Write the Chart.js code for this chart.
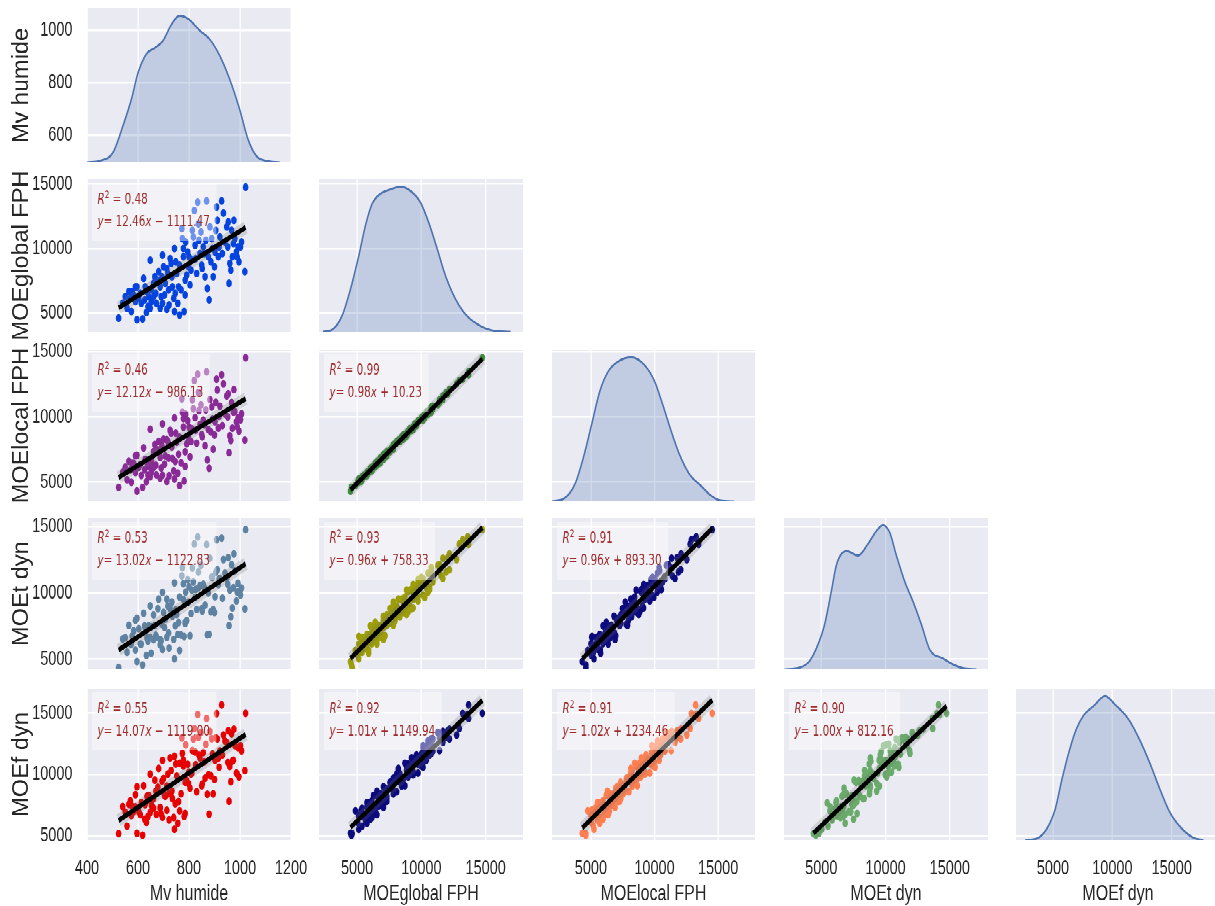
<!doctype html>
<html>
<head>
<meta charset="utf-8" />
<title>Pairplot</title>
<script src="https://cdn.jsdelivr.net/npm/chart.js@4"></script>
<style>
  html, body { margin: 0; padding: 0; background: #fff; overflow: hidden; }
  /* the figure is laid out at 1215x648 then stretched vertically like the source image */
  #fig { position: absolute; left: 0; top: 0; width: 1215px; height: 648px; transform: scale(1, 1.4); transform-origin: 0 0; }
  #fig canvas { position: absolute; }
</style>
</head>
<body>
<div id="fig"></div>
<script>
const varNames = ['Mv humide', 'MOEglobal FPH', 'MOElocal FPH', 'MOEt dyn', 'MOEf dyn'];

// one value per specimen
const mvHumide = [524, 596, 618, 574, 633, 713, 743, 763, 781, 577, 596, 609, 622, 628, 642, 648, 653, 666, 672, 681,
  687, 696, 700, 704, 713, 720, 726, 733, 740, 743, 748, 759, 763, 772, 774, 778, 785, 791, 798, 804,
  811, 817, 821, 824, 830, 834, 837, 843, 850, 856, 863, 869, 872, 879, 882, 886, 889, 895, 902, 908,
  911, 915, 921, 928, 935, 941, 948, 954, 957, 960, 964, 967, 974, 980, 986, 992, 996, 1006, 1019, 1022,
  564, 570, 583, 590, 603, 613, 626, 635, 639, 652, 661, 670, 678, 691, 694, 707, 717, 722, 730, 735,
  752, 756, 769, 778, 787, 795, 808, 813, 826, 839, 847, 852, 860, 866, 876, 892, 900, 905, 918, 931,
  952, 970, 976, 989, 1002, 590, 550, 540, 557, 648, 661, 687, 696, 746, 785, 800];
const moeGlobal = [4620, 4490, 4560, 5130, 5050, 5310, 5130, 4870, 5130, 6670, 7050, 6540, 7690, 7050, 6280, 9100, 6800, 7820, 5770, 8210,
  7050, 9490, 8590, 6410, 8460, 6800, 9230, 7820, 6150, 10000, 8970, 7050, 8720, 11540, 10770, 9360, 6410, 7950, 8590, 7180,
  9100, 10900, 12950, 10260, 8080, 13590, 11920, 9620, 8720, 10130, 7820, 13670, 6920, 6030, 11670, 8970, 10770, 7820, 9740, 13210,
  12180, 9360, 10900, 13670, 12740, 10510, 11670, 12050, 7310, 8850, 8330, 11410, 10380, 10770, 9740, 10130, 8970, 10510, 8210, 14740,
  6670, 6150, 6410, 5900, 6150, 5770, 6030, 6670, 5510, 5900, 7310, 6540, 7560, 6280, 7820, 7310, 8080, 5640, 8850, 7050,
  8080, 5770, 6800, 10000, 10510, 9740, 8330, 11410, 9230, 10640, 11280, 8460, 9620, 10640, 9360, 10000, 8590, 11410, 10130, 9620,
  10130, 9360, 12180, 9360, 10130, 7050, 6280, 5770, 5390, 5390, 6280, 5390, 5770, 6540, 7560, 9360];
const moeLocal = [4600, 4320, 4600, 5000, 5040, 5060, 5240, 4750, 5090, 6450, 7070, 6360, 7640, 6740, 6200, 9060, 6600, 7880, 5560, 8130,
  6900, 9470, 8290, 6390, 8250, 6850, 8970, 7700, 5880, 9920, 8760, 7140, 8440, 11400, 10360, 9230, 6210, 7940, 8450, 6950,
  9100, 10630, 12800, 9940, 7990, 13280, 11880, 9420, 8650, 9770, 7790, 13470, 6700, 6070, 11340, 8840, 10770, 7530, 9640, 12900,
  12060, 9150, 10830, 13230, 12540, 10230, 11610, 11780, 7260, 8560, 8200, 11100, 10370, 10410, 9630, 9920, 8920, 10250, 8230, 14540,
  6600, 5940, 6450, 5740, 6130, 5520, 5950, 6480, 5530, 5760, 7350, 6300, 7480, 6080, 7770, 7010, 8130, 5500, 8760, 6810,
  8070, 5690, 6480, 9870, 10210, 9710, 8120, 11310, 8980, 10480, 10930, 8470, 9380, 10540, 9020, 9840, 8620, 11120, 10050, 9330,
  10000, 9140, 12090, 9260, 9790, 7030, 6140, 5760, 5190, 5420, 6110, 5310, 5540, 6590, 7330, 9230];
const moeTDyn = [4390, 4830, 4580, 6160, 5290, 6660, 5040, 5670, 6720, 6760, 8090, 6160, 8460, 7370, 7510, 9010, 7450, 7550, 6700, 9520,
  6490, 10030, 8520, 7390, 9520, 6970, 8820, 9310, 6500, 10760, 8730, 7770, 9690, 11280, 11900, 9500, 7790, 7910, 9320, 6770,
  10210, 10820, 13670, 9650, 8760, 14200, 11560, 10550, 8810, 10640, 9070, 13640, 6840, 6870, 12600, 8570, 11180, 8750, 9710, 14000,
  11730, 10620, 11060, 14120, 12510, 11490, 11080, 12650, 7540, 10210, 8200, 12110, 10400, 11660, 9390, 10720, 10090, 10370, 8800, 14750,
  7560, 6180, 7150, 5700, 7300, 6140, 7510, 6600, 6370, 5460, 8340, 6800, 8820, 6390, 7630, 8020, 9000, 5850, 8370, 8250,
  8360, 6860, 6810, 10680, 10050, 10990, 8440, 11870, 10260, 10410, 12070, 8640, 10390, 10250, 9980, 11160, 8520, 11550, 11040, 9590,
  10640, 8860, 12930, 10060, 9840, 7930, 6630, 6540, 5530, 6650, 6470, 6090, 5740, 7520, 7700, 10460];
const moeFDyn = [5180, 5210, 5050, 6650, 6090, 7070, 5530, 7030, 6570, 7410, 8990, 6720, 9080, 7550, 8290, 10020, 7460, 9530, 6740, 10480,
  7310, 11140, 9670, 8260, 9060, 8420, 11350, 8650, 6480, 11490, 10850, 7790, 10920, 12970, 11710, 11160, 6820, 9500, 9270, 8880,
  10100, 12880, 13750, 11830, 8590, 14900, 13030, 11350, 9080, 11780, 9690, 14560, 8380, 6760, 13500, 9890, 12910, 8410, 11150, 14970,
  12890, 11320, 11920, 15660, 13220, 12730, 12620, 13560, 7810, 10650, 9400, 13310, 11150, 12350, 10110, 12180, 9810, 11930, 10320, 14990,
  7570, 7840, 6980, 7350, 6960, 7700, 6360, 8210, 6560, 7670, 8050, 8640, 8950, 6770, 9450, 8210, 10030, 6290, 10330, 8030,
  9870, 6020, 8420, 10690, 12410, 10830, 10040, 11950, 10790, 11580, 13420, 9220, 11030, 12460, 9960, 11650, 9590, 12990, 10580, 11590,
  10980, 11080, 13690, 10040, 12340, 8350, 6930, 7380, 5790, 6910, 7250, 7230, 6500, 7600, 9350, 10200];
const columns = [mvHumide, moeGlobal, moeLocal, moeTDyn, moeFDyn];

// density curves on the diagonal (x, relative height)
const kdeMvX = [400, 450, 502, 541, 574, 600, 633, 665, 698, 731, 763, 796, 842, 881, 920, 959, 999, 1031, 1064, 1103, 1156];
const kdeMvY = [0, 0.011, 0.068, 0.25, 0.43, 0.61, 0.74, 0.78, 0.83, 0.94, 1.0, 0.98, 0.90, 0.84, 0.73, 0.57, 0.36, 0.16, 0.045, 0.011, 0];
const kdeGlobalX = [2350, 3053, 3830, 4478, 5125, 5647, 6169, 6815, 7594, 8373, 9152, 9931, 10578, 11232, 11879, 12658, 13437, 14473, 15517, 16934];
const kdeGlobalY = [0, 0.014, 0.11, 0.29, 0.52, 0.73, 0.88, 0.95, 0.98, 1.0, 0.97, 0.89, 0.75, 0.57, 0.385, 0.225, 0.12, 0.046, 0.009, 0];
const kdeLocalX = [1922, 2836, 3750, 4398, 5047, 5703, 6352, 7133, 8172, 9219, 10000, 10648, 11297, 11953, 12734, 13641, 14422, 15203, 16250];
const kdeLocalY = [0, 0.016, 0.12, 0.30, 0.53, 0.765, 0.90, 0.97, 1.0, 0.945, 0.834, 0.67, 0.49, 0.327, 0.19, 0.108, 0.04, 0.005, 0];
const kdeTX = [2141, 3310, 4088, 4735, 5257, 5779, 6168, 6558, 6994, 7851, 8630, 9284, 9799, 10321, 10843, 11489, 12136, 12790, 13437, 14473, 15252, 16031, 17074];
const kdeTY = [0, 0.011, 0.057, 0.17, 0.31, 0.54, 0.72, 0.80, 0.82, 0.79, 0.87, 0.96, 1.0, 0.95, 0.79, 0.61, 0.47, 0.31, 0.137, 0.075, 0.034, 0.007, 0];
const kdeFX = [2672, 3656, 4496, 5193, 5756, 6311, 6874, 7571, 8411, 9395, 10235, 11354, 12336, 13177, 14017, 14857, 15840, 16820, 17660];
const kdeFY = [0, 0.011, 0.08, 0.216, 0.42, 0.60, 0.75, 0.864, 0.93, 1.0, 0.94, 0.84, 0.69, 0.53, 0.35, 0.19, 0.08, 0.016, 0];
const kdeXs = [kdeMvX, kdeGlobalX, kdeLocalX, kdeTX, kdeFX];
const kdeYs = [kdeMvY, kdeGlobalY, kdeLocalY, kdeTY, kdeFY];

// fitted lines printed in each lower panel
const fitRows = [1, 2, 2, 3, 3, 3, 4, 4, 4, 4];
const fitCols = [0, 0, 1, 0, 1, 2, 0, 1, 2, 3];
const fitR2 = ['0.48', '0.46', '0.99', '0.53', '0.93', '0.91', '0.55', '0.92', '0.91', '0.90'];
const fitSlope = [12.46, 12.12, 0.98, 13.02, 0.96, 0.96, 14.07, 1.01, 1.02, 1.00];
const fitIntercept = [-1111.47, -986.13, 10.23, -1122.83, 758.33, 893.30, -1119.00, 1149.94, 1234.46, 812.16];
const pointColors = ['#0443df', '#8a2a97', '#3d8c3d', '#5e82a2', '#9c9d08', '#0b0b7e', '#e60000', '#0b0b7e', '#ff7f50', '#6aaa6a'];

const mvTicks = [400, 600, 800, 1000, 1200];
const mvRowTicks = [600, 800, 1000];
const moeTicks = [5000, 10000, 15000];

// panel geometry (layout px, before vertical stretch) and axis limits
const colLeft = [87, 319, 552, 784, 1016];
const colWidth = [204, 204, 203, 204, 204];
const rowTop = [6, 128, 250, 370, 492];
const rowHeight = [110, 109, 108, 108, 108];
const xLimits = [[400, 1200], [2040, 17900], [1940, 17900], [2100, 17970], [1891, 19060]];
const yLimits = [[497, 1084], [3560, 15360], [3540, 15130], [4250, 15630], [4650, 16980]];
const yAxisWidth = 87;
const xAxisHeight = 48;
const pad = 16;
const stretch = 1.4;

const BG = '#eaeaf2';
const TEXT = '#262626';
const FAMILY = "'Liberation Sans', Arial, sans-serif";
const MATH = "'DejaVu Sans', sans-serif";
const NOTE = '#9e2a2b';

const fig = document.getElementById('fig');

const panelBg = {
  id: 'panelBg',
  beforeDraw(chart) {
    const { ctx, chartArea: a } = chart;
    ctx.save();
    ctx.fillStyle = BG;
    ctx.fillRect(a.left, a.top, a.right - a.left, a.bottom - a.top);
    ctx.restore();
  }
};

// y labels are not stretched in the source, so undo the page stretch along the text
function yTitlePlugin(r) {
  return {
    id: 'yTitle' + r,
    afterDraw(chart) {
      const { ctx, chartArea: a } = chart;
      ctx.save();
      ctx.translate(21.5, (a.top + a.bottom) / 2);
      ctx.rotate(-Math.PI / 2);
      ctx.scale(1 / stretch, 1);
      ctx.font = `23.5px ${FAMILY}`;
      ctx.fillStyle = TEXT;
      ctx.textAlign = 'center';
      ctx.textBaseline = 'middle';
      ctx.fillText(varNames[r], 0, 0);
      ctx.restore();
    }
  };
}

function drawParts(ctx, parts, x, y) {
  for (const p of parts) {
    ctx.font = p.font;
    ctx.fillText(p.t, x, y + (p.dy || 0));
    x += ctx.measureText(p.t).width;
  }
  return x;
}

function notePlugin(k) {
  const size = 10.4;
  const reg = `${size}px ${MATH}`;
  const ital = `italic ${size}px ${MATH}`;
  const sup = `${size * 0.7}px ${MATH}`;
  const b = fitIntercept[k];
  const line1 = [{ t: 'R', font: ital }, { t: '2', font: sup, dy: -4 }, { t: ' = ' + fitR2[k], font: reg }];
  const line2 = [{ t: 'y', font: ital }, { t: '= ' + fitSlope[k].toFixed(2), font: reg }, { t: 'x', font: ital },
    { t: (b < 0 ? ' \u2212 ' : ' + ') + Math.abs(b).toFixed(2), font: reg }];
  return {
    id: 'note' + k,
    afterDatasetsDraw(chart) {
      const { ctx, chartArea: a } = chart;
      ctx.save();
      ctx.textBaseline = 'alphabetic';
      ctx.fillStyle = 'rgba(0,0,0,0)';
      const x0 = a.left + 10.5;
      const w = Math.max(drawParts(ctx, line1, x0, -100), drawParts(ctx, line2, x0, -100)) - x0;
      ctx.fillStyle = 'rgba(255,255,255,0.42)';
      ctx.fillRect(a.left + 5, a.top + 2.5, w + 12, 41.5);
      ctx.fillStyle = NOTE;
      drawParts(ctx, line1, x0, a.top + 17.5);
      drawParts(ctx, line2, x0, a.top + 33.5);
      ctx.restore();
    }
  };
}

function buildScales(r, c) {
  const hasY = c === 0;
  const hasX = r === 4;
  const gridOpts = { color: '#ffffff', lineWidth: 1.3, drawTicks: false };
  const tickFont = { family: FAMILY, size: 14.5 };
  return {
    x: {
      type: 'linear', min: xLimits[c][0], max: xLimits[c][1],
      afterBuildTicks: s => { s.ticks = (c === 0 ? mvTicks : moeTicks).map(v => ({ value: v })); },
      afterFit: s => { s.height = hasX ? xAxisHeight : 0; s.paddingLeft = 0; s.paddingRight = 0; },
      grid: gridOpts,
      border: { display: false },
      ticks: { display: hasX, padding: 11.6, color: TEXT, autoSkip: false, maxRotation: 0, font: tickFont, callback: v => String(v) },
      title: { display: hasX, text: varNames[c], color: TEXT, padding: { top: 0, bottom: 0 }, font: { family: FAMILY, size: 16 } }
    },
    y: {
      type: 'linear', min: yLimits[r][0], max: yLimits[r][1],
      afterBuildTicks: s => { s.ticks = (r === 0 ? mvRowTicks : moeTicks).map(v => ({ value: v })); },
      afterFit: s => { s.width = hasY ? yAxisWidth : 0; s.paddingTop = 0; s.paddingBottom = 0; },
      grid: gridOpts,
      border: { display: false },
      ticks: { display: hasY, padding: 14.5, color: TEXT, autoSkip: false, font: tickFont, callback: v => String(v) },
      title: { display: false }
    }
  };
}

function makeCanvas(r, c) {
  const hasY = c === 0;
  const hasX = r === 4;
  const cv = document.createElement('canvas');
  const left = colLeft[c] - (hasY ? yAxisWidth : pad);
  const top = rowTop[r] - pad;
  const w = colWidth[c] + (hasY ? yAxisWidth : pad) + pad;
  const h = rowHeight[r] + pad + (hasX ? xAxisHeight : pad);
  cv.style.left = left + 'px';
  cv.style.top = top + 'px';
  cv.width = w;
  cv.height = h;
  cv.style.width = w + 'px';
  cv.style.height = h + 'px';
  fig.appendChild(cv);
  const padding = { left: hasY ? 0 : pad, right: pad, top: pad, bottom: hasX ? 0 : pad };
  return { cv, padding };
}

const common = {
  responsive: false,
  maintainAspectRatio: false,
  animation: false,
  devicePixelRatio: 2,
  plugins: { legend: { display: false }, tooltip: { enabled: false } }
};

// diagonal: density curves
for (let i = 0; i < 5; i++) {
  const { cv, padding } = makeCanvas(i, i);
  const scales = buildScales(i, i);
  scales.yk = { display: false, min: 0, max: 1.05 };
  const plugins = [panelBg];
  if (i === 0) plugins.push(yTitlePlugin(0));
  new Chart(cv, {
    type: 'line',
    data: {
      datasets: [{
        data: kdeXs[i].map((x, j) => ({ x, y: kdeYs[i][j] })),
        yAxisID: 'yk',
        borderColor: '#4c72b0',
        borderWidth: 1.5,
        backgroundColor: 'rgba(76,114,176,0.26)',
        fill: 'origin',
        pointRadius: 0,
        cubicInterpolationMode: 'monotone'
      }]
    },
    options: { ...common, layout: { padding }, scales },
    plugins
  });
}

// lower triangle: scatter + fitted line
for (let k = 0; k < fitRows.length; k++) {
  const r = fitRows[k];
  const c = fitCols[k];
  const xs = columns[c];
  const ys = columns[r];
  const lo = Math.min(...xs);
  const hi = Math.max(...xs);
  const fit = [lo, hi].map(x => ({ x, y: fitSlope[k] * x + fitIntercept[k] }));
  const { cv, padding } = makeCanvas(r, c);
  const plugins = [panelBg, notePlugin(k)];
  if (c === 0) plugins.push(yTitlePlugin(r));
  new Chart(cv, {
    type: 'scatter',
    data: {
      datasets: [
        { data: fit, showLine: true, borderColor: '#000000', borderWidth: 3.6, pointRadius: 0 },
        { data: fit, showLine: true, borderColor: 'rgba(110,110,110,0.22)', borderWidth: 9, pointRadius: 0 },
        { data: xs.map((x, j) => ({ x, y: ys[j] })), pointRadius: 2.8, pointBorderWidth: 0, backgroundColor: pointColors[k], borderColor: pointColors[k] }
      ]
    },
    options: { ...common, layout: { padding }, scales: buildScales(r, c) },
    plugins
  });
}
</script>
</body>
</html>
